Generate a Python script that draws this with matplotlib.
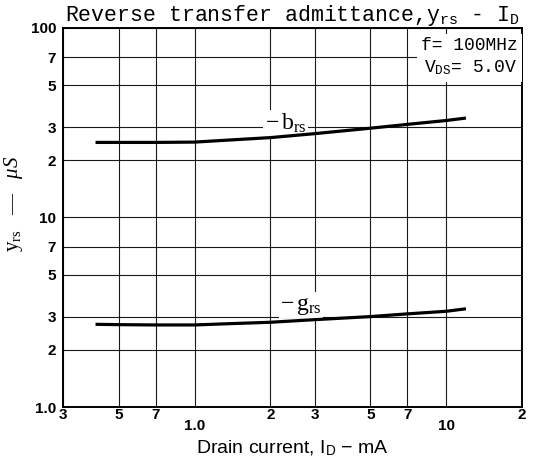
import matplotlib
matplotlib.use("Agg")
import matplotlib.pyplot as plt
import matplotlib.transforms as mtransforms
from matplotlib.ticker import NullLocator

plt.rcParams["mathtext.fontset"] = "custom"
plt.rcParams["mathtext.rm"] = "Liberation Serif"
plt.rcParams["mathtext.it"] = "Liberation Serif:italic"
plt.rcParams["mathtext.tt"] = "Liberation Mono"
plt.rcParams["mathtext.sf"] = "Liberation Sans"

# values
drain_current_ma = [0.41, 0.5, 0.7, 1.0, 1.35, 2.0, 3.0, 5.0, 7.0, 10.0, 11.8]
minus_brs_us = [24.9, 24.9, 24.9, 25.0, 25.6, 26.4, 27.7, 29.6, 31.0, 32.5, 33.4]
minus_grs_us = [2.73, 2.72, 2.71, 2.71, 2.75, 2.80, 2.89, 3.00, 3.10, 3.20, 3.29]

x_ticks = [0.3, 0.5, 0.7, 1.0, 2, 3, 5, 7, 10, 20]
x_tick_labels = ["3", "5", "7", "1.0", "2", "3", "5", "7", "10", "2"]
y_ticks = [1, 2, 3, 5, 7, 10, 20, 30, 50, 70, 100]
y_tick_labels = ["1.0", "2", "3", "5", "7", "10", "2", "3", "5", "7", "100"]

fig = plt.figure(figsize=(5.36, 4.61), dpi=100)
ax = fig.add_axes([63 / 536, 1 - 407 / 461, 459 / 536, 379 / 461])

ax.set_xscale("log")
ax.set_yscale("log")
ax.set_xlim(0.3, 20)
ax.set_ylim(1, 100)

ax.set_xticks(x_ticks, x_tick_labels)
ax.set_yticks(y_ticks, y_tick_labels)
ax.xaxis.set_minor_locator(NullLocator())
ax.yaxis.set_minor_locator(NullLocator())
ax.tick_params(length=0, labelsize=11)
ax.tick_params(axis="x", pad=1)
ax.tick_params(axis="y", pad=5)
for lab in ax.get_xticklabels() + ax.get_yticklabels():
    lab.set_fontweight("bold")
    lab.set_fontfamily("Liberation Sans")

# 1.0 and 10 sit lower than the other x labels
drop = mtransforms.ScaledTranslation(0, -8 / 72, fig.dpi_scale_trans)
for lab, text in zip(ax.get_xticklabels(), x_tick_labels):
    if text in ("1.0", "10"):
        lab.set_transform(lab.get_transform() + drop)

ax.grid(True, which="major", color="#1a1a1a", linewidth=0.8)
for spine in ax.spines.values():
    spine.set_linewidth(1.4)
    spine.set_zorder(5)

ax.plot(drain_current_ma, minus_brs_us, color="black", linewidth=2.3, zorder=4)
ax.plot(drain_current_ma, minus_grs_us, color="black", linewidth=2.3, zorder=4)

ax.text(2.3, 31.5, r"$-\,\mathrm{b_{rs}}$", fontsize=17, ha="center", va="center",
        zorder=3, bbox=dict(facecolor="white", edgecolor="none", pad=1))
ax.text(2.65, 3.45, r"$-\,\mathrm{g_{rs}}$", fontsize=17, ha="center", va="center",
        zorder=3, bbox=dict(facecolor="white", edgecolor="none", pad=1))

ax.text(0.99, 0.975, "f= 100MHz\n" + r"V$_{\mathtt{DS}}$= 5.0V",
        transform=ax.transAxes, ha="right", va="top", fontsize=13,
        family="Liberation Mono", linespacing=1.3, zorder=6,
        bbox=dict(facecolor="white", edgecolor="none", pad=3))

ax.set_title("Reverse transfer admittance,y$_{\\mathtt{rs}}$ - I$_{\\mathtt{D}}$",
             fontsize=15.5, family="Liberation Mono", pad=3)
ax.set_ylabel(r"$\mathrm{y_{rs}}$   —   $\mu S$", fontsize=15,
              family="Liberation Serif")
ax.yaxis.set_label_coords(-0.083, 0.535)
ax.set_xlabel(r"Drain current, I$_{\mathsf{D}}$ − mA", fontsize=14,
              family="Liberation Sans", labelpad=4)

fig.savefig("out.png", dpi=100)
